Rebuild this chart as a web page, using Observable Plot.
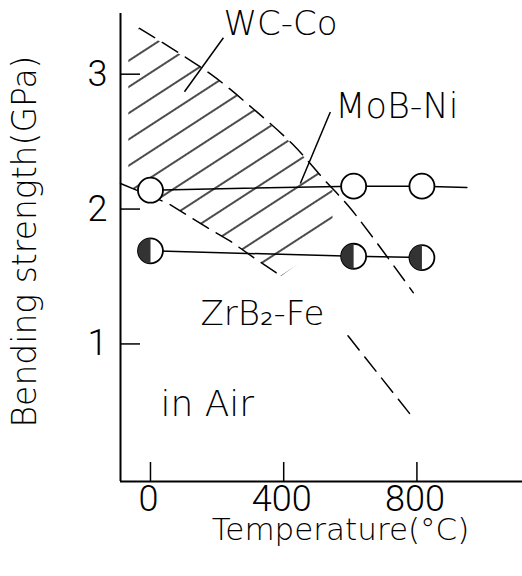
<!DOCTYPE html>
<html><head><meta charset="utf-8">
<script src="https://cdn.jsdelivr.net/npm/d3@7"></script>
<script src="https://cdn.jsdelivr.net/npm/@observablehq/plot@0.6"></script>
<style>body{margin:0;background:#fff}</style>
</head><body><div id="chart"></div>
<script>
// axes
const xDomain = [-90, 1117];
const yDomain = [-0.02, 3.45];
const xTicks = [0, 400, 800];
const yTicks = [1, 2, 3];
const xLabel = "Temperature(°C)";
const yLabel = "Bending strength(GPa)";

// MoB-Ni (open circles)
const mobX = [0, 610, 815];
const mobY = [2.14, 2.17, 2.17];
const mobLineX = [0, 610, 815, 950];
const mobLineY = [2.14, 2.17, 2.17, 2.16];

// ZrB2-Fe (half-filled circles)
const zrbX = [0, 610, 815];
const zrbY = [1.69, 1.65, 1.64];

// WC-Co band (dashed boundaries + hatched region)
const wcTopX = [-33, 181, 310, 427, 521, 602, 789];
const wcTopY = [3.34, 3.00, 2.74, 2.48, 2.22, 2.00, 1.38];
const wcBotX = [-90, 54, 172, 241, 310, 394];
const wcBotY = [2.19, 2.04, 1.86, 1.76, 1.64, 1.50];
const wcLowX = [593, 789];
const wcLowY = [1.06, 0.45];
const regionX = [-65, -33, 54, 181, 241, 310, 394, 427, 521, 548];
const regionTop = [3.20, 3.34, 3.20, 3.00, 2.88, 2.74, 2.55, 2.48, 2.22, 2.15];
const regionBottom = [2.16, 2.13, 2.04, 1.84, 1.76, 1.64, 1.50, 1.56, 1.73, 1.78];

// annotations
const labelText = ["WC-Co", "MoB-Ni", "ZrB\u2082-Fe", "in Air"];
const labelX = [219, 555, 150, 30];
const labelY = [3.37, 2.76, 1.22, 0.55];
const labelSize = [34, 35, 34, 36];
const leaderX1 = [219, 540];
const leaderY1 = [3.27, 2.72];
const leaderX2 = [102, 450];
const leaderY2 = [2.87, 2.19];

const pts = (xs, ys) => xs.map((x, i) => ({x, y: ys[i]}));
const region = regionX.map((x, i) => ({x, y1: regionBottom[i], y2: regionTop[i]}));
const labels = labelText.map((t, i) => ({t, x: labelX[i], y: labelY[i], s: labelSize[i]}));
const leaders = leaderX1.map((x1, i) => ({x1, y1: leaderY1[i], x2: leaderX2[i], y2: leaderY2[i]}));

const halfLeft = {
  draw(context, size) {
    const r = Math.sqrt(size / Math.PI);
    context.moveTo(0, -r);
    context.arc(0, 0, r, -Math.PI / 2, Math.PI / 2, true);
    context.closePath();
  }
};

const textFont = "'DejaVu Sans', sans-serif";
const tickFont = "Roboto, 'Liberation Sans', sans-serif";
const dash = "18,9";

const chart = Plot.plot({
  width: 522,
  height: 576,
  marginLeft: 120,
  marginRight: 0,
  marginTop: 13,
  marginBottom: 95,
  x: {domain: xDomain, axis: null},
  y: {domain: yDomain, axis: null},
  style: {background: "#fff", color: "#000", fontFamily: textFont},
  marks: [
    Plot.areaY(region, {x: "x", y1: "y1", y2: "y2", fill: "url(#hatch)", curve: "linear"}),
    Plot.line(pts(wcTopX, wcTopY), {x: "x", y: "y", stroke: "#000", strokeWidth: 1.5, strokeDasharray: dash, curve: "catmull-rom"}),
    Plot.line(pts(wcBotX, wcBotY), {x: "x", y: "y", stroke: "#000", strokeWidth: 1.5, strokeDasharray: dash}),
    Plot.line(pts(wcLowX, wcLowY), {x: "x", y: "y", stroke: "#000", strokeWidth: 1.5, strokeDasharray: dash}),
    Plot.line(pts(mobLineX, mobLineY), {x: "x", y: "y", stroke: "#000", strokeWidth: 1.5}),
    Plot.line(pts(zrbX, zrbY), {x: "x", y: "y", stroke: "#000", strokeWidth: 1.5}),
    Plot.link(leaders, {x1: "x1", y1: "y1", x2: "x2", y2: "y2", stroke: "#000", strokeWidth: 1.5}),
    Plot.dot(pts(mobX, mobY), {x: "x", y: "y", r: 12.5, fill: "#fff", stroke: "#000", strokeWidth: 1.8}),
    Plot.dot(pts(zrbX, zrbY), {x: "x", y: "y", r: 12.5, fill: "#fff", stroke: "#000", strokeWidth: 1.8}),
    Plot.dot(pts(zrbX, zrbY), {x: "x", y: "y", r: 12.5, symbol: halfLeft, fill: "#333", stroke: "none"}),
    // axes
    Plot.ruleX([xDomain[0]], {stroke: "#000", strokeWidth: 2}),
    Plot.ruleY([yDomain[0]], {stroke: "#000", strokeWidth: 2}),
    Plot.tickY(yTicks, {y: d => d, insetRight: 382, stroke: "#000", strokeWidth: 1.5}),
    Plot.tickX(xTicks, {x: d => d, insetTop: 449, stroke: "#000", strokeWidth: 1.5}),
    Plot.text(yTicks, {y: d => d, text: d => String(d), frameAnchor: "left", textAnchor: "end", lineAnchor: "middle", dx: -13, fontSize: 36, fontWeight: 300, fontFamily: tickFont}),
    Plot.text(xTicks, {x: d => d, text: d => String(d), frameAnchor: "bottom", textAnchor: "middle", lineAnchor: "middle", dx: -2, dy: 18, fontSize: 36, fontWeight: 300, fontFamily: tickFont}),
    Plot.text([xLabel], {text: d => d, frameAnchor: "bottom", textAnchor: "middle", lineAnchor: "middle", dx: 19, dy: 49, fontSize: 31, fontWeight: 200}),
    Plot.text([yLabel], {text: d => d, frameAnchor: "left", textAnchor: "middle", lineAnchor: "middle", rotate: -90, dx: -95, dy: -6, fontSize: 33, fontWeight: 200}),
    Plot.text(labels, {x: "x", y: "y", text: "t", textAnchor: "start", lineAnchor: "middle", fontSize: "s", fontWeight: 200})
  ]
});

const defs = `<defs><pattern id="hatch" patternUnits="userSpaceOnUse" width="22" height="22" patternTransform="rotate(-33)"><line x1="0" y1="11" x2="22" y2="11" stroke="#000" stroke-width="1.4"/></pattern></defs>`;
chart.insertAdjacentHTML("afterbegin", defs);
document.getElementById("chart").append(chart);
</script>
</body></html>
